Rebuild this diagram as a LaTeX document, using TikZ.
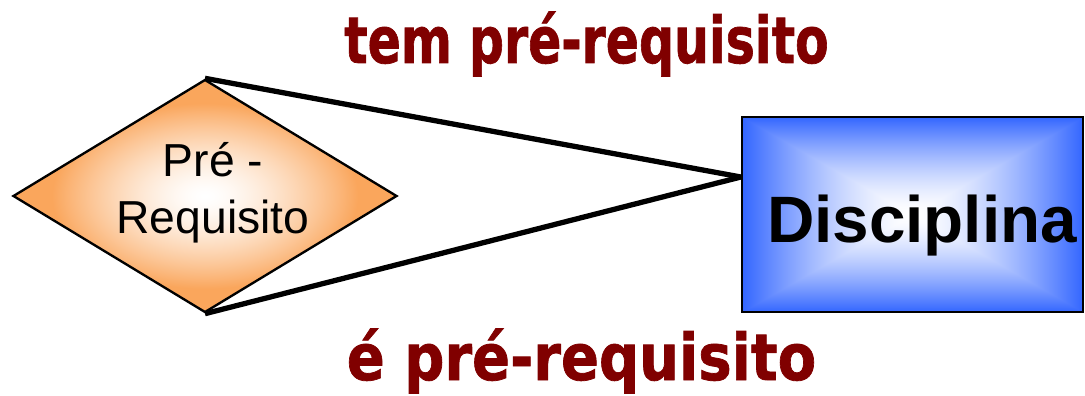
\documentclass[tikz,border=0pt]{standalone}
\usepackage{fontspec}
\usetikzlibrary{shapes.geometric,calc}
\newfontfamily\arialface{Liberation Sans}
\newfontfamily\roleface{DejaVu Sans}[BoldFeatures={FakeBold=1.2}]
\definecolor{rolered}{HTML}{800000}

% rectangular glow: white centre fading to blue at the edges
% (the path fills the central -25..25 part of the shading square)
\pgfdeclarefunctionalshading{boxglow}{\pgfpoint{-50bp}{-50bp}}{\pgfpoint{50bp}{50bp}}{}{
  abs exch abs 2 copy lt {exch} if pop 25 div dup 1 gt {pop 1} if
  dup sqrt mul
  dup 0.80 mul 1 exch sub
  exch 0.60 mul 1 exch sub
  1
}
% diamond glow: white centre fading to orange towards the outline
\pgfdeclarefunctionalshading{diamondglow}{\pgfpoint{-50bp}{-50bp}}{\pgfpoint{50bp}{50bp}}{}{
  25 div dup mul exch 25 div dup mul add sqrt 1.25 mul
  dup 1 gt {pop 1} if
  dup sqrt mul
  dup 0.02 mul 1 exch sub
  exch dup 0.35 mul 1 exch sub
  exch 0.64 mul 1 exch sub
}

\begin{document}
\begin{tikzpicture}[x=0.03cm,y=-0.03cm,
  entity/.style={rectangle, draw=black, line width=2pt, shading=boxglow,
    inner sep=0pt, minimum width=10.23cm, minimum height=5.85cm},
  relation/.style={diamond, draw=black, line width=2pt, shading=diamondglow,
    inner sep=0pt, minimum width=11.52cm, minimum height=6.99cm},
  link/.style={draw=black, line width=4.5pt},
  rolelabel/.style={text=rolered, inner sep=0pt, anchor=base,
    font=\roleface\bfseries\fontsize{55pt}{60pt}\selectfont},
]
\useasboundingbox (0,0) rectangle (1085,396);

% entity and relationship shapes
\node[entity] (disc) at (912.5,214.5) {};
\node[relation] (rel) at (205,196) {};

% texts
\node[anchor=base, inner sep=0pt, font=\arialface\bfseries\fontsize{56pt}{60pt}\selectfont]
  (disctext) at (922,242) {Disciplina};
\node[anchor=base, inner sep=0pt, align=center,
  font=\arialface\fontsize{39.5pt}{48.5pt}\selectfont]
  (reltext) at (213,233) {Pré -\\Requisito};

% the two role lines meet on the left side of the entity
\coordinate (hub) at ($(disc.north west)!0.31!(disc.south west)$);
\draw[link] (rel.north) -- (hub);
\draw[link] (rel.south) -- (hub);

% role names
\node[rolelabel] (roletop) at (586.5,63) {\scalebox{0.76}[1]{tem pré-requisito}};
\node[rolelabel] (rolebot) at (581.5,380) {\scalebox{0.87}[1]{é pré-requisito}};
\end{tikzpicture}
\end{document}
